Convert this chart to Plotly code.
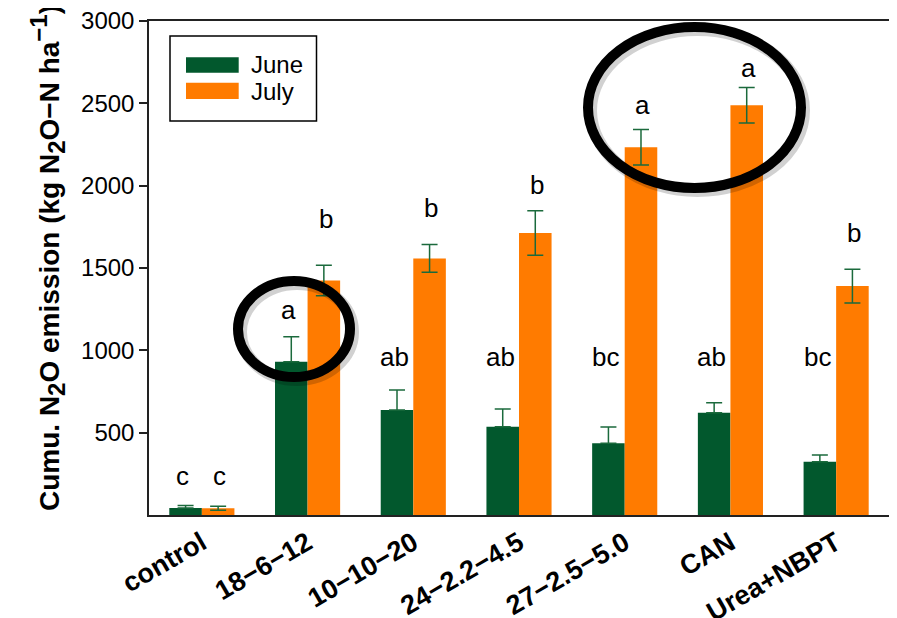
import plotly.graph_objects as go

categories = ["control", "18−6−12", "10−10−20", "24−2.2−4.5", "27−2.5−5.0", "CAN", "Urea+NBPT"]
june = [43, 931, 638, 536, 435, 621, 324]
june_err = [14, 152, 121, 108, 100, 61, 41]
july = [41, 1424, 1558, 1712, 2233, 2488, 1390]
july_err = [12, 92, 84, 135, 108, 108, 103]
june_letters = ["c", "a", "ab", "ab", "bc", "ab", "bc"]
july_letters = ["c", "b", "b", "b", "a", "a", "b"]
june_letter_y = [235, 1242, 958, 958, 958, 958, 958]
july_letter_y = [235, 1798, 1864, 2005, 2490, 2713, 1712]
y_ticks = [500, 1000, 1500, 2000, 2500, 3000]

GREEN = "#02582D"
ORANGE = "#FF7B00"
ERR = "#1B6A3C"
FONT = "Liberation Sans, Arial, sans-serif"

# the page adds an 8 px body margin; size the figure so the plot area lands
# at page pixels x 149..889, y 21..515
OFF = 8
W, H = 897 - OFF, 618 - OFF
PX0, PX1, PY0, PY1 = 149, 889, 21, 515
L, T = PX0 - OFF, PY0 - OFF
R, B = W - (PX1 - OFF), H - (PY1 - OFF)
PW, PH = PX1 - PX0, PY1 - PY0


def px(x):
    return (x - PX0) / PW


def py(y):
    return (PY1 - y) / PH


fig = go.Figure()
fig.add_trace(go.Bar(
    x=categories, y=june, name="June", marker=dict(color=GREEN, line=dict(width=0)),
    error_y=dict(type="data", symmetric=False, array=june_err, arrayminus=[0] * len(june),
                 color=ERR, thickness=1.5, width=8),
    showlegend=False,
))
fig.add_trace(go.Bar(
    x=categories, y=july, name="July", marker=dict(color=ORANGE, line=dict(width=0)),
    error_y=dict(type="data", array=july_err, color=ERR, thickness=1.5, width=8),
    showlegend=False,
))

annotations = []
for c, t, yv in zip(categories, june_letters, june_letter_y):
    annotations.append(dict(x=c, y=yv, xref="x", yref="y", text=t, showarrow=False,
                            xshift=-19, font=dict(size=26, color="black", family=FONT)))
for c, t, yv in zip(categories, july_letters, july_letter_y):
    annotations.append(dict(x=c, y=yv, xref="x", yref="y", text=t, showarrow=False,
                            xshift=18, font=dict(size=26, color="black", family=FONT)))

SUB = '<span style="font-size:24px">'
# y-axis title
annotations.append(dict(
    x=px(47), y=py(258), xref="paper", yref="paper", showarrow=False, textangle=-90,
    text=("<b>Cumu. N<sub>" + SUB + "2</span></sub>O emission (kg N<sub>" + SUB +
          "2</span></sub>O−N ha<sup>" + SUB + "−1</span></sup>)</b>"),
    font=dict(size=28, color="black", family=FONT), xanchor="center", yanchor="middle",
))
# legend texts
annotations.append(dict(x=px(249), y=py(65), xref="paper", yref="paper", text="June",
                        showarrow=False, xanchor="left", yanchor="middle",
                        font=dict(size=24, color="black", family=FONT)))
annotations.append(dict(x=px(249), y=py(92), xref="paper", yref="paper", text="July",
                        showarrow=False, xanchor="left", yanchor="middle",
                        font=dict(size=24, color="black", family=FONT)))

shapes = [
    # legend box and swatches
    dict(type="rect", xref="paper", yref="paper", x0=px(170), x1=px(316.5), y0=py(121), y1=py(36),
         line=dict(color="black", width=1.5), fillcolor="white"),
    dict(type="rect", xref="paper", yref="paper", x0=px(186), x1=px(238.7), y0=py(72.7), y1=py(57.3),
         line=dict(width=0), fillcolor=GREEN),
    dict(type="rect", xref="paper", yref="paper", x0=px(186), x1=px(238.7), y0=py(99), y1=py(82.7),
         line=dict(width=0), fillcolor=ORANGE),
]
# highlight ellipses with soft shadow
for (x0, x1, y0, y1) in [(238, 350, 281, 377), (588, 801, 27, 188)]:
    shapes.append(dict(type="circle", xref="paper", yref="paper",
                       x0=px(x0 + 3), x1=px(x1 + 3), y0=py(y1 + 3), y1=py(y0 + 3),
                       line=dict(color="rgba(0,0,0,0.18)", width=12)))
    shapes.append(dict(type="circle", xref="paper", yref="paper",
                       x0=px(x0), x1=px(x1), y0=py(y1), y1=py(y0),
                       line=dict(color="black", width=10)))

fig.update_layout(
    width=W, height=H,
    margin=dict(l=L, r=R, t=T, b=B, autoexpand=False),
    paper_bgcolor="white", plot_bgcolor="white",
    barmode="group", bargap=0.384, bargroupgap=0,
    font=dict(family=FONT, color="black"),
    annotations=annotations, shapes=shapes,
)
fig.update_xaxes(
    showline=True, linecolor="#222", linewidth=1.5, mirror=True, ticks="",
    tickangle=-30, tickfont=dict(size=27, family=FONT, color="black", weight="bold"),
    showgrid=False, automargin=False, ticklabeloverflow="allow",
)
fig.update_yaxes(
    range=[0, 3000], tickvals=y_ticks, ticks="outside", ticklen=8, tickwidth=1.5,
    tickcolor="#222", showline=True, linecolor="#222", linewidth=1.5, mirror=True,
    tickfont=dict(size=24, family=FONT, color="black"), showgrid=False, zeroline=False,
    automargin=False, ticklabeloverflow="allow",
)

fig.write_html("out.html")
